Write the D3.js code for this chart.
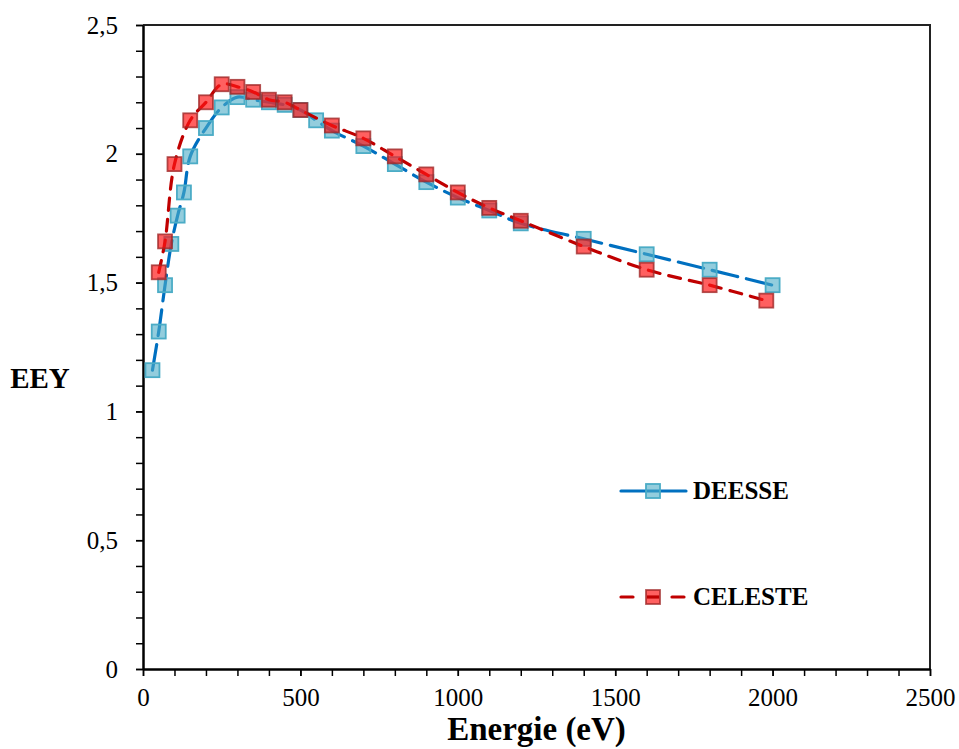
<!DOCTYPE html>
<html>
<head>
<meta charset="utf-8">
<script src="https://cdn.jsdelivr.net/npm/d3@7"></script>
<style>
  html, body { margin: 0; padding: 0; background: #fff; }
  svg { display: block; }
</style>
</head>
<body>
<svg id="chart" width="959" height="749"></svg>
<script>
// Electron emission yield (EEY) versus primary energy, two simulation codes
const deesseEnergy = [30, 50, 70, 90, 110, 130, 150, 200, 250, 300, 350, 400, 450, 500, 550, 600, 700, 800, 900, 1000, 1100, 1200, 1400, 1600, 1800, 2000];
const deesseEEY    = [1.16, 1.31, 1.49, 1.65, 1.76, 1.85, 1.99, 2.10, 2.18, 2.22, 2.21, 2.20, 2.19, 2.17, 2.13, 2.09, 2.03, 1.96, 1.89, 1.83, 1.78, 1.73, 1.67, 1.61, 1.55, 1.49];

const celesteEnergy = [50, 70, 100, 150, 200, 250, 300, 350, 400, 450, 500, 600, 700, 800, 900, 1000, 1100, 1200, 1400, 1600, 1800, 1980];
const celesteEEY    = [1.54, 1.66, 1.96, 2.13, 2.20, 2.27, 2.26, 2.24, 2.21, 2.20, 2.17, 2.11, 2.06, 1.99, 1.92, 1.85, 1.79, 1.74, 1.64, 1.55, 1.49, 1.43];

const xTicks = [0, 500, 1000, 1500, 2000, 2500];
const yTicks = [0, 0.5, 1, 1.5, 2, 2.5];
const seriesNames = ["DEESSE", "CELESTE"];

const svg = d3.select("#chart");
const plotLeft = 143, plotRight = 930, plotTop = 25, plotBottom = 669;

const x = d3.scaleLinear().domain([0, 2500]).range([plotLeft, plotRight]);
const y = d3.scaleLinear().domain([0, 2.5]).range([plotBottom, plotTop]);

const serif = "'Liberation Serif', 'Times New Roman', serif";
const fmt = d => String(d).replace(".", ",");

// plot frame (top and right edges)
svg.append("path")
  .attr("d", `M${plotLeft},${plotTop}H${plotRight}V${plotBottom}`)
  .attr("fill", "none").attr("stroke", "#222").attr("stroke-width", 2);

// minor ticks
const xMinor = d3.range(0, 2501, 100);
const yMinor = d3.range(0, 26).map(i => i / 10);

svg.append("g")
  .attr("transform", `translate(0,${plotBottom})`)
  .call(d3.axisBottom(x).tickValues(xMinor).tickSize(7).tickFormat(""))
  .call(g => g.select(".domain").remove())
  .call(g => g.selectAll("line").attr("stroke", "#000").attr("stroke-width", 1.5));

svg.append("g")
  .attr("transform", `translate(${plotLeft},0)`)
  .call(d3.axisLeft(y).tickValues(yMinor).tickSize(7).tickFormat(""))
  .call(g => g.select(".domain").remove())
  .call(g => g.selectAll("line").attr("stroke", "#000").attr("stroke-width", 1.5));

// major axes with labels
const xAxis = svg.append("g")
  .attr("transform", `translate(0,${plotBottom})`)
  .call(d3.axisBottom(x).tickValues(xTicks).tickSize(7).tickPadding(12).tickSizeOuter(0).tickFormat(d => d));
xAxis.select(".domain").attr("stroke", "#000").attr("stroke-width", 2.5);
xAxis.selectAll("line").attr("stroke", "#000").attr("stroke-width", 1.5);
xAxis.selectAll("text").attr("font-family", serif).attr("font-size", 25).attr("fill", "#000");

const yAxis = svg.append("g")
  .attr("transform", `translate(${plotLeft},0)`)
  .call(d3.axisLeft(y).tickValues(yTicks).tickSize(7).tickPadding(18).tickSizeOuter(0).tickFormat(fmt));
yAxis.select(".domain").attr("stroke", "#000").attr("stroke-width", 2.5);
yAxis.selectAll("line").attr("stroke", "#000").attr("stroke-width", 1.5);
yAxis.selectAll("text").attr("font-family", serif).attr("font-size", 25).attr("fill", "#000");

// axis titles
svg.append("text")
  .attr("x", (plotLeft + plotRight) / 2).attr("y", 740)
  .attr("text-anchor", "middle")
  .attr("font-family", serif).attr("font-weight", "bold").attr("font-size", 33)
  .text("Energie (eV)");

svg.append("text")
  .attr("x", 40).attr("y", 388)
  .attr("text-anchor", "middle")
  .attr("font-family", serif).attr("font-weight", "bold").attr("font-size", 29)
  .text("EEY");

const styles = [
  { line: "#0070C0", dash: "26,9", fill: "rgba(75,172,198,0.6)", stroke: "#4BACC6" },
  { line: "#C00000", dash: "12,9", fill: "rgba(255,20,20,0.68)", stroke: "rgba(160,40,40,0.8)" }
];

const series = [
  deesseEnergy.map((e, i) => [e, deesseEEY[i]]),
  celesteEnergy.map((e, i) => [e, celesteEEY[i]])
];

const line = d3.line()
  .x(d => x(d[0])).y(d => y(d[1]))
  .curve(d3.curveCatmullRom.alpha(0.5));

const msize = 14;

series.forEach((pts, k) => {
  const s = styles[k];
  svg.append("path")
    .datum(pts)
    .attr("d", line)
    .attr("fill", "none")
    .attr("stroke", s.line)
    .attr("stroke-width", 3.2)
    .attr("stroke-dasharray", s.dash)
    .attr("stroke-linecap", "round");

  svg.append("g").selectAll("rect")
    .data(pts).join("rect")
    .attr("x", d => x(d[0]) - msize / 2)
    .attr("y", d => y(d[1]) - msize / 2)
    .attr("width", msize).attr("height", msize)
    .attr("fill", s.fill)
    .attr("stroke", s.stroke)
    .attr("stroke-width", 1.8);
});

// legend
const legendY = [491, 597];
seriesNames.forEach((name, k) => {
  const s = styles[k];
  const g = svg.append("g").attr("transform", `translate(0,${legendY[k]})`);
  g.append("line")
    .attr("x1", 621).attr("x2", 686).attr("y1", 0).attr("y2", 0)
    .attr("stroke", s.line).attr("stroke-width", 3.2)
    .attr("stroke-dasharray", k === 0 ? null : "12,39")
    .attr("stroke-linecap", "round");
  g.append("rect")
    .attr("x", 653 - msize / 2).attr("y", -msize / 2)
    .attr("width", msize).attr("height", msize)
    .attr("fill", s.fill).attr("stroke", s.stroke).attr("stroke-width", 1.8);
  if (k === 1) {
    g.append("line")
      .attr("x1", 647).attr("x2", 659).attr("y1", 0).attr("y2", 0)
      .attr("stroke", s.line).attr("stroke-width", 3.2);
  }
  g.append("text")
    .attr("x", 693).attr("y", 8)
    .attr("font-family", serif).attr("font-weight", "bold").attr("font-size", 25)
    .attr("fill", "#000")
    .text(name);
});
</script>
</body>
</html>
